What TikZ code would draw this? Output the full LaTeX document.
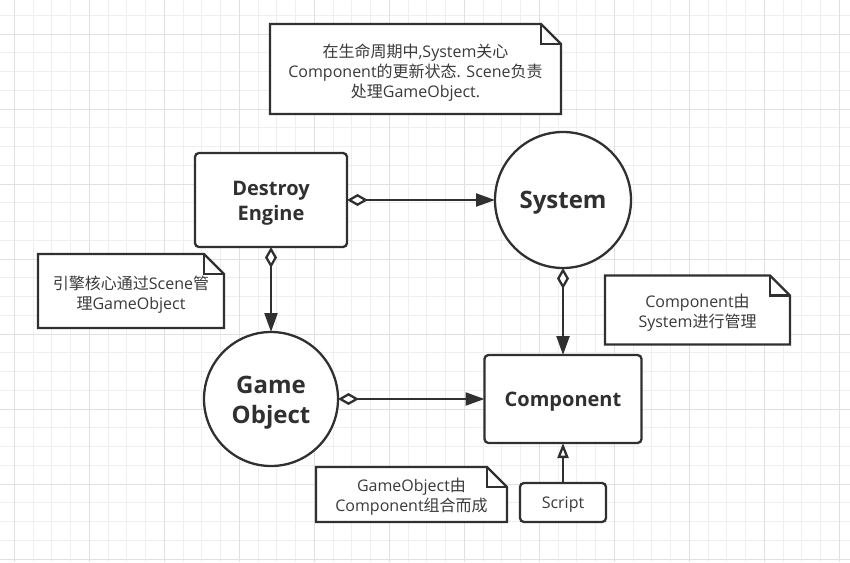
\documentclass[tikz,border=0pt]{standalone}
\usepackage{fontspec}
\setmainfont{Open Sans}
\newfontfamily\cjk{Noto Sans CJK SC}
\usetikzlibrary{arrows.meta}
\pgfdeclarelayer{bg}
\pgfsetlayers{bg,main}
\definecolor{ink}{HTML}{303030}
\definecolor{notetxt}{HTML}{3A3A3A}
\definecolor{gridminor}{HTML}{EFEFEF}
\definecolor{gridmajor}{HTML}{E0E0E0}
\newcommand\drawnote[1]{%
  \draw[noteframe] (#1.north west) -- ([xshift=-20pt]#1.north east) -- ([yshift=-20pt]#1.north east) -- (#1.south east) -- (#1.south west) -- cycle;
  \draw[noteframe, fill=none] ([xshift=-20pt]#1.north east) -- ([xshift=-20pt,yshift=-20pt]#1.north east) -- ([yshift=-20pt]#1.north east);}
\begin{document}
\begin{tikzpicture}[x=1pt,y=-1pt,
  every node/.style={text=ink, inner sep=0pt, outer sep=0pt},
  box/.style={draw=ink, line width=2.3pt, fill=white, rounded corners=4pt},
  boxtext/.style={align=center, font=\fontsize{20}{25}\selectfont\bfseries},
  bigcircle/.style={draw=ink, line width=2.3pt, fill=white, circle, minimum size=136pt},
  circletext/.style={align=center, font=\fontsize{24}{30}\selectfont\bfseries},
  notebox/.style={draw=none},
  notetext/.style={align=center, text=notetxt, font=\fontsize{16}{20}\selectfont},
  noteframe/.style={draw=ink, line width=2.2pt, fill=white},
  conn/.style={draw=ink, line width=2.3pt},
  agg/.style={conn, {Diamond[open,length=21pt,width=12pt,fill=white]}-{Triangle[length=19pt,width=13pt]}},
  inherit/.style={conn, -{Triangle[open,length=15pt,width=11pt,fill=white]}},
  gminor/.style={draw=gridminor, line width=1pt},
  gmajor/.style={draw=gridmajor, line width=1pt},
]
\useasboundingbox (0,0) rectangle (850,562);
\begin{pgfonlayer}{bg}
  \fill[white] (0,0) rectangle (850,562);
  \foreach \i in {0,...,44} \draw[gminor] ({14.3+18.75*\i},0) -- ({14.3+18.75*\i},562);
  \foreach \i in {0,...,29} \draw[gminor] (0,{15.3+18.75*\i}) -- (850,{15.3+18.75*\i});
  \foreach \i in {0,...,11} \draw[gmajor] ({14.3+75*\i},0) -- ({14.3+75*\i},562);
  \foreach \i in {0,...,7} \draw[gmajor] (0,{34.3+75*\i}) -- (850,{34.3+75*\i});
\end{pgfonlayer}

% main shapes
\node[box, minimum width=152pt, minimum height=94pt] (destroy) at (271,200) {};
\node[bigcircle] (system) at (563,200) {};
\node[bigcircle, minimum size=134pt] (game) at (271,399) {};
\node[box, minimum width=157pt, minimum height=88pt] (comp) at (563,399) {};
\node[box, minimum width=86pt, minimum height=39pt] (script) at (563,502.5) {};

% their texts
\node[boxtext] (destroy-text) at ([yshift=-3pt]destroy.center) {Destroy\\Engine};
\node[circletext] (system-text) at ([yshift=-3pt]system.center) {System};
\node[circletext] (game-text) at ([yshift=-4pt]game.center) {Game\\Object};
\node[boxtext] (comp-text) at ([yshift=-3pt]comp.center) {Component};
\node[notetext] (script-text) at ([yshift=-2pt]script.center) {Script};

% notes
\node[notebox, minimum width=291pt, minimum height=90pt] (topnote) at (415.5,69) {};
\node[notebox, minimum width=186pt, minimum height=74pt] (leftnote) at (131,291) {};
\node[notebox, minimum width=185pt, minimum height=69pt] (rightnote) at (697.5,310) {};
\node[notebox, minimum width=191pt, minimum height=55pt] (gonote) at (411.5,494.5) {};

\begin{pgfonlayer}{bg}
  \drawnote{topnote}
  \drawnote{leftnote}
  \drawnote{rightnote}
  \drawnote{gonote}
\end{pgfonlayer}

\node[notetext] (topnote-text) at ([yshift=-3.5pt]topnote.center)
  {{\cjk 在生命周期中},System{\cjk 关心}\\Component{\cjk 的更新状态}. Scene{\cjk 负责}\\{\cjk 处理}GameObject.};
\node[notetext] (leftnote-text) at ([yshift=-3.5pt]leftnote.center)
  {{\cjk 引擎核心通过}Scene{\cjk 管}\\{\cjk 理}GameObject};
\node[notetext] (rightnote-text) at ([yshift=-3pt]rightnote.center)
  {Component{\cjk 由}\\System{\cjk 进行管理}};
\node[notetext] (gonote-text) at ([yshift=-2.5pt]gonote.center)
  {GameObject{\cjk 由}\\Component{\cjk 组合而成}};

% connectors
\draw[agg] (destroy.east) -- (system.west);
\draw[agg] (destroy.south) -- (game.north);
\draw[agg] (system.south) -- (comp.north);
\draw[agg] (game.east) -- (comp.west);
\draw[inherit] (script.north) -- (comp.south);
\end{tikzpicture}
\end{document}
